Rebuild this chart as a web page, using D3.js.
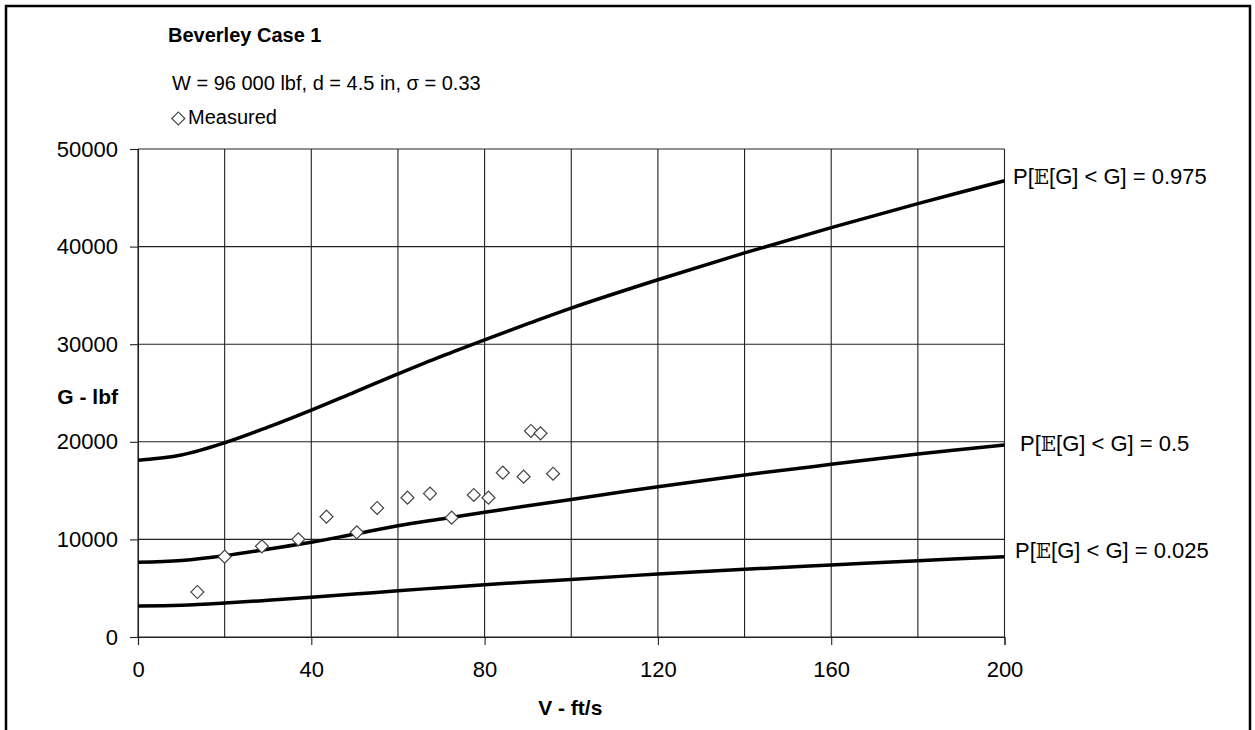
<!DOCTYPE html>
<html>
<head>
<meta charset="utf-8">
<script src="https://cdn.jsdelivr.net/npm/d3@7"></script>
<style>
  html, body { margin: 0; padding: 0; background: #fff; }
  svg { display: block; font-family: "Liberation Sans", Arial, sans-serif; }
</style>
</head>
<body>
<svg id="chart" width="1255" height="730"></svg>
<script>
// Velocity grid (ft/s) on which the probability bands are tabulated
const bandV = [0, 10, 20, 30, 40, 50, 60, 70, 80, 90, 100, 120, 140, 160, 180, 200];
// G (lbf) at P[E[G] < G] = 0.975, 0.5 and 0.025
const bandHigh = [18100, 18650, 19900, 21500, 23250, 25100, 26950, 28750, 30450, 32100, 33700, 36600, 39350, 41950, 44400, 46750];
const bandMid  = [7650, 7850, 8330, 9000, 9700, 10550, 11400, 12100, 12780, 13450, 14080, 15400, 16600, 17690, 18750, 19670];
const bandLow  = [3180, 3260, 3480, 3760, 4070, 4400, 4740, 5050, 5360, 5640, 5900, 6450, 6940, 7380, 7820, 8230];

// Measured drag points
const measuredV = [13.7, 20.0, 28.6, 37.0, 43.5, 50.5, 55.2, 62.2, 67.4, 72.4, 77.5, 80.9, 84.2, 89.0, 90.7, 92.9, 95.8];
const measuredG = [4610, 8230, 9290, 10010, 12330, 10720, 13220, 14280, 14690, 12230, 14550, 14280, 16840, 16430, 21110, 20870, 16730];

// Axis ticks
const xGrid = [0, 20, 40, 60, 80, 100, 120, 140, 160, 180, 200];
const xTicks = [0, 40, 80, 120, 160, 200];
const yTicks = [0, 10000, 20000, 30000, 40000, 50000];

const bandLabels = ["0.975", "0.5", "0.025"];

const svg = d3.select("#chart");

const x = d3.scaleLinear().domain([0, 200]).range([138, 1004.5]);
const y = d3.scaleLinear().domain([0, 50000]).range([637, 149]);

// Outer frame
svg.append("rect")
  .attr("x", 6).attr("y", 6).attr("width", 1244).attr("height", 800)
  .attr("fill", "none").attr("stroke", "#000").attr("stroke-width", 2.5);

// Grid
const grid = svg.append("g").attr("stroke", "#222").attr("stroke-width", 1.1);
grid.selectAll("line.v").data(xGrid).join("line")
  .attr("class", "v")
  .attr("x1", d => x(d)).attr("x2", d => x(d))
  .attr("y1", y(0)).attr("y2", y(50000));
grid.selectAll("line.h").data(yTicks).join("line")
  .attr("class", "h")
  .attr("x1", x(0)).attr("x2", x(200))
  .attr("y1", d => y(d)).attr("y2", d => y(d));

// Axes
const xAxis = svg.append("g")
  .attr("transform", `translate(0,${y(0)})`)
  .call(d3.axisBottom(x).tickValues(xTicks).tickSize(8).tickPadding(16).tickFormat(d3.format("d")));
const yAxis = svg.append("g")
  .attr("transform", `translate(${x(0)},0)`)
  .call(d3.axisLeft(y).tickValues(yTicks).tickSize(8).tickPadding(12).tickFormat(d3.format("d")));
[xAxis, yAxis].forEach(a => {
  a.selectAll("path, line").attr("stroke", "#222").attr("stroke-width", 1.1);
  a.selectAll("text").attr("fill", "#000").attr("font-size", 22)
    .attr("font-family", '"Liberation Sans", Arial, sans-serif');
});

// Probability bands
const line = d3.line()
  .x(d => x(d[0]))
  .y(d => y(d[1]))
  .curve(d3.curveCatmullRom.alpha(0.5));
const bands = [bandHigh, bandMid, bandLow];
svg.append("g").selectAll("path").data(bands).join("path")
  .attr("d", vals => line(bandV.map((v, i) => [v, vals[i]])))
  .attr("fill", "none").attr("stroke", "#000").attr("stroke-width", 3.5)
  .attr("stroke-linejoin", "round");

// Measured points as open diamonds
const diamond = d3.symbol(d3.symbolSquare, 84);
const points = measuredV.map((v, i) => [v, measuredG[i]]);
svg.append("g").selectAll("path").data(points).join("path")
  .attr("d", diamond)
  .attr("transform", d => `translate(${x(d[0])},${y(d[1])}) rotate(45)`)
  .attr("fill", "#fff").attr("stroke", "#444").attr("stroke-width", 1.2);

// Band labels at the right edge
const labelPos = [[1013, 184], [1020, 451], [1015, 558]];
bandLabels.forEach((p, i) => {
  const t = svg.append("text")
    .attr("x", labelPos[i][0]).attr("y", labelPos[i][1])
    .attr("font-size", 22).attr("fill", "#000");
  t.append("tspan").text("P[");
  t.append("tspan").attr("font-family", '"DejaVu Serif", "Liberation Serif", serif').attr("font-size", 20).text("𝔼");
  t.append("tspan").text(`[G] < G] = ${p}`);
});

// Titles and legend
svg.append("text").attr("x", 168).attr("y", 42)
  .attr("font-size", 20).attr("font-weight", "bold").text("Beverley Case 1");
svg.append("text").attr("x", 172).attr("y", 90)
  .attr("font-size", 20).text("W = 96 000 lbf, d = 4.5 in, σ = 0.33");
svg.append("path")
  .attr("d", diamond)
  .attr("transform", "translate(178.3,118.5) rotate(45)")
  .attr("fill", "#fff").attr("stroke", "#444").attr("stroke-width", 1.2);
svg.append("text").attr("x", 188).attr("y", 124)
  .attr("font-size", 20).text("Measured");

// Axis titles
svg.append("text").attr("x", 118).attr("y", 404)
  .attr("text-anchor", "end").attr("font-size", 21).attr("font-weight", "bold").text("G - lbf");
svg.append("text").attr("x", x(100) - 1).attr("y", 715)
  .attr("text-anchor", "middle").attr("font-size", 21).attr("font-weight", "bold").text("V - ft/s");
</script>
</body>
</html>
